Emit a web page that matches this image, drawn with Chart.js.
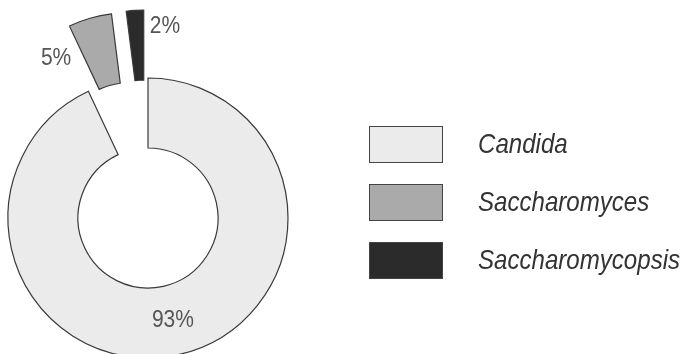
<!DOCTYPE html>
<html>
<head>
<meta charset="utf-8">
<script src="https://cdn.jsdelivr.net/npm/chart.js@4"></script>
<style>
html, body { margin: 0; padding: 0; width: 683px; height: 354px; overflow: hidden; background: #fff; }
#wrap { position: absolute; left: 0; top: 0; width: 683px; height: 436px; }
</style>
</head>
<body>
<div id="wrap"><canvas id="yeastChart"></canvas></div>
<script>
// Share of isolates per genus (%)
const genera = ['Candida', 'Saccharomyces', 'Saccharomycopsis'];
const shares = [93, 5, 2];
const fills  = ['#ebebeb', '#aaaaaa', '#2b2b2b'];
const pulls  = [0, 68, 68];   // how far the small slices are pulled out

const FONT = '"Liberation Sans", Arial, sans-serif';

// draw text squeezed horizontally (the original uses a condensed face)
function narrowText(ctx, txt, x, y, sx) {
    ctx.save();
    ctx.translate(x, y);
    ctx.scale(sx, 1);
    ctx.fillText(txt, 0, 0);
    ctx.restore();
}

function midAngle(arc) {
    return (arc.startAngle + arc.endAngle) / 2;
}

// ── Exploded slices: plain shift along the mid angle ─────────────────────
const explode = {
    id: 'explode',
    beforeDatasetDraw(chart, args) {
        const ctx = chart.ctx;
        args.meta.data.forEach((arc, i) => {
            const a = midAngle(arc);
            ctx.save();
            ctx.translate(Math.cos(a) * pulls[i], Math.sin(a) * pulls[i]);
            arc.draw(ctx);
            ctx.restore();
        });
        return false;
    }
};

// ── Percent labels on / beside each slice ────────────────────────────────
const sliceLabels = {
    id: 'sliceLabels',
    afterDatasetsDraw(chart) {
        const ctx  = chart.ctx;
        const arcs = chart.getDatasetMeta(0).data;
        ctx.save();
        ctx.font = '24px ' + FONT;
        ctx.fillStyle = '#555';
        ctx.textAlign = 'center';
        ctx.textBaseline = 'middle';
        arcs.forEach((arc, i) => {
            const txt = shares[i] + '%';
            if (!pulls[i]) {
                const p = arc.tooltipPosition();
                narrowText(ctx, txt, p.x + 2, p.y, 0.875);
                return;
            }
            const m    = midAngle(arc);
            const cx   = arc.x + Math.cos(m) * pulls[i];
            const cy   = arc.y + Math.sin(m) * pulls[i];
            const last = i === arcs.length - 1;
            const r    = arc.outerRadius - (last ? 14 : 21);
            const a    = last ? arc.endAngle + 0.17 : arc.startAngle - 0.22;
            narrowText(ctx, txt, cx + Math.cos(a) * r, cy + Math.sin(a) * r, 0.875);
        });
        ctx.restore();
    }
};

// ── Legend on the right, big swatches ────────────────────────────────────
const sideLegend = {
    id: 'sideLegend',
    afterDraw(chart) {
        const ctx = chart.ctx;
        const bx = 369, by = 126, bw = 74, bh = 37, step = 58;
        ctx.save();
        genera.forEach((g, i) => {
            const y = by + i * step;
            ctx.fillStyle = fills[i];
            ctx.fillRect(bx, y, bw, bh);
            ctx.strokeStyle = '#444';
            ctx.lineWidth = 1;
            ctx.strokeRect(bx + 0.5, y + 0.5, bw - 1, bh - 1);
            ctx.font = 'italic 28px ' + FONT;
            ctx.fillStyle = '#333';
            ctx.textAlign = 'left';
            ctx.textBaseline = 'middle';
            narrowText(ctx, g, 478, y + bh / 2 + 1, 0.86);
        });
        ctx.restore();
    }
};

const chart = new Chart(document.getElementById('yeastChart'), {
    type: 'doughnut',
    data: {
        labels: genera,
        datasets: [{
            data: shares,
            backgroundColor: fills,
            borderColor: '#3a3a3a',
            borderWidth: 1.2,
            borderJoinStyle: 'miter',
            clip: false
        }]
    },
    options: {
        responsive: true,
        maintainAspectRatio: false,
        animation: false,
        events: [],
        radius: 140,
        cutout: '50%',
        layout: { padding: { right: 387 } },
        plugins: {
            legend: { display: false },
            tooltip: { enabled: false }
        }
    },
    plugins: [explode, sliceLabels, sideLegend]
});
</script>
</body>
</html>
